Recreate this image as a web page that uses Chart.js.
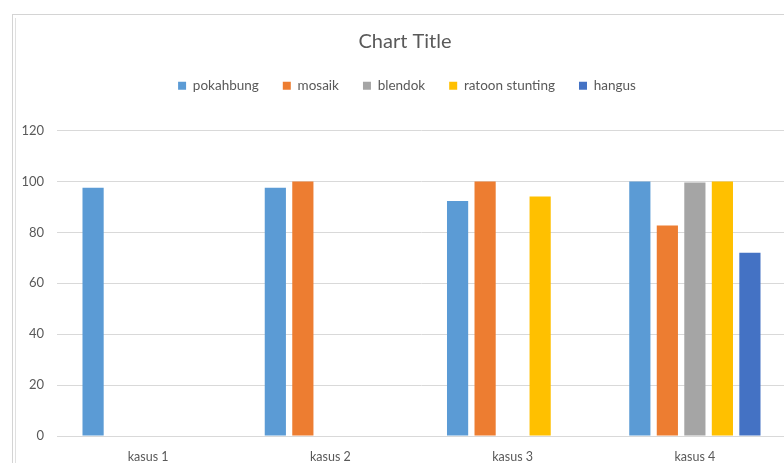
<!DOCTYPE html>
<html>
<head>
<meta charset="utf-8">
<script src="https://cdn.jsdelivr.net/npm/chart.js@4/dist/chart.umd.min.js"></script>
<style>
  html, body { margin: 0; padding: 0; background: #fff; overflow: hidden; }
  #wrap { position: relative; width: 784px; height: 463px; overflow: hidden; }
  #frame { position: absolute; left: 12px; top: 14px; width: 800px; height: 460px;
           border-top: 1px solid #d4d4d4; border-left: 1px solid #d4d4d4; }
  #frame2 { position: absolute; left: 15px; top: 18px; width: 1px; height: 460px; background: #e0e0e0; }
  #c { position: absolute; left: 0; top: 0; }
</style>
</head>
<body>
<div id="wrap">
  <div id="frame"></div>
  <div id="frame2"></div>
  <canvas id="c" width="786" height="463"></canvas>
</div>
<script>
const categories = ["kasus 1", "kasus 2", "kasus 3", "kasus 4"];
const seriesNames = ["pokahbung", "mosaik", "blendok", "ratoon stunting", "hangus"];
const pokahbung = [97.5, 97.5, 92.3, 100];
const mosaik = [null, 100, 100, 82.7];
const blendok = [null, null, null, 99.6];
const ratoonStunting = [null, null, 94.1, 100];
const hangus = [null, null, null, 72];
const yTicks = [0, 20, 40, 60, 80, 100, 120];
const colors = ["#5B9BD5", "#ED7D31", "#A5A5A5", "#FFC000", "#4472C4"];

const seriesValues = [pokahbung, mosaik, blendok, ratoonStunting, hangus];
const FONT = "Lato, 'Open Sans', sans-serif";
const TXT = "#595959";

const headerTweaks = {
  id: "headerTweaks",
  beforeInit(chart) {
    const orig = chart.legend.fit;
    chart.legend.fit = function () {
      orig.bind(chart.legend)();
      this.height += 28;
    };
  },
  afterLayout(chart) {
    if (chart.titleBlock) { chart.titleBlock.left += 12; chart.titleBlock.right += 12; }
    if (chart.legend) { chart.legend.left += 14; chart.legend.right += 14; }
  }
};

new Chart(document.getElementById("c"), {
  type: "bar",
  data: {
    labels: categories,
    datasets: seriesNames.map((n, i) => ({
      label: n,
      data: seriesValues[i],
      backgroundColor: colors[i],
      borderWidth: 0,
      categoryPercentage: 0.755,
      barPercentage: 0.77
    }))
  },
  plugins: [headerTweaks],
  options: {
    responsive: false,
    animation: false,
    layout: { padding: { left: 0, right: 0, top: 0, bottom: 0 } },
    plugins: {
      title: {
        display: true,
        text: "Chart Title",
        color: TXT,
        font: { family: FONT, size: 20, weight: "normal" },
        padding: { top: 30, bottom: 1 }
      },
      legend: {
        display: true,
        position: "top",
        labels: {
          color: TXT,
          font: { family: FONT, size: 13.5 },
          boxWidth: 8,
          boxHeight: 8,
          padding: 24
        }
      },
      tooltip: { enabled: false }
    },
    scales: {
      x: {
        afterFit: (s) => { s.height = 27; },
        grid: { display: false, drawTicks: false },
        border: { display: true, color: "#d9d9d9" },
        ticks: { color: TXT, font: { family: FONT, size: 12.5 }, padding: 13 }
      },
      y: {
        min: 0,
        max: 120,
        afterFit: (s) => { s.width = 57; },
        afterBuildTicks: (s) => { s.ticks = yTicks.map(v => ({ value: v })); },
        grid: { color: "#d9d9d9", drawTicks: false },
        border: { display: false },
        ticks: { color: TXT, font: { family: FONT, size: 13 }, padding: 13 }
      }
    }
  }
});
</script>
</body>
</html>
